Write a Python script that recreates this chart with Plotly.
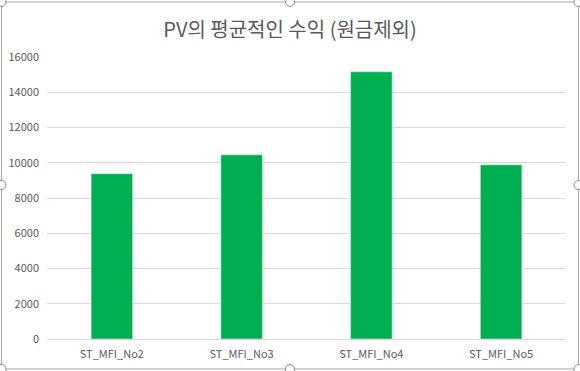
import plotly.graph_objects as go

categories = ["ST_MFI_No2", "ST_MFI_No3", "ST_MFI_No4", "ST_MFI_No5"]
values = [9380, 10450, 15160, 9880]
y_ticks = [0, 2000, 4000, 6000, 8000, 10000, 12000, 14000, 16000]

W, H = 580, 371
ml, mr, mt, mb = 47, 14, 57, 32
pw, ph = W - ml - mr, H - mt - mb

def px(x):
    return (x - ml) / pw

def py(y):
    return (H - mb - y) / ph

fig = go.Figure(go.Bar(
    x=categories, y=values, marker_color="#00b050", width=0.32,
))

fig.update_layout(
    width=W, height=H,
    margin=dict(l=ml, r=mr, t=mt, b=mb, autoexpand=False),
    paper_bgcolor="white", plot_bgcolor="white",
    showlegend=False,
    title=dict(text="PV의 평균적인 수익 (원금제외)", x=0.5, xref="container", xanchor="center",
               y=1 - 30 / H, yanchor="middle",
               font=dict(family="Noto Sans CJK KR", size=20, color="#595959")),
    font=dict(family="Noto Sans CJK KR, Liberation Sans", size=11, color="#595959"),
)
fig.update_xaxes(showgrid=False, showline=True, linecolor="#d9d9d9", linewidth=1,
                 ticks="", ticklabelstandoff=5, tickfont=dict(size=11, color="#595959"))
fig.update_yaxes(range=[0, 16000], tickvals=y_ticks, ticktext=[str(v) for v in y_ticks],
                 showgrid=True, gridcolor="#d9d9d9",
                 zeroline=False, showline=False, ticks="", ticklen=0, ticklabelstandoff=7,
                 tickfont=dict(size=11, color="#595959"))

# chart frame (selection border)
fig.add_shape(type="rect", xref="paper", yref="paper",
              x0=px(1.5), x1=px(578.5), y0=py(2), y1=py(369),
              line=dict(color="#a6a6a6", width=1), fillcolor="rgba(0,0,0,0)", layer="below")
handles = [(1.5, 2), (290, 2), (578.5, 2), (1.5, 185), (578.5, 185), (1.5, 369), (290, 369), (578.5, 369)]
r = 4.5
for hx, hy in handles:
    fig.add_shape(type="circle", xref="paper", yref="paper",
                  x0=px(hx - r), x1=px(hx + r), y0=py(hy - r), y1=py(hy + r),
                  line=dict(color="#8c8c8c", width=1), fillcolor="white")

fig.write_html("out.html", config={"displayModeBar": False},
               post_script="document.body.style.margin='0';document.body.style.overflow='hidden';")
